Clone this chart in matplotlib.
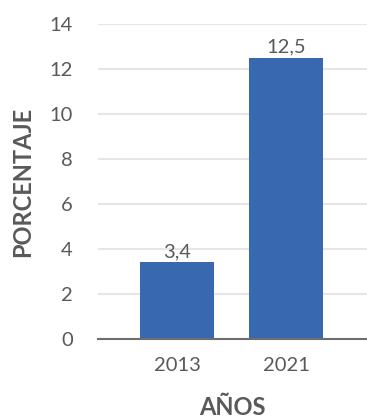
import matplotlib.pyplot as plt

# Porcentaje por año
years = ['2013', '2021']
values = [3.4, 12.5]
value_labels = ['3,4', '12,5']
y_ticks = [0, 2, 4, 6, 8, 10, 12, 14]

plt.rcParams['font.family'] = ['Lato', 'DejaVu Sans']
text_gray = '#595959'

fig = plt.figure(figsize=(3.67, 4.2), dpi=100)
ax = fig.add_axes([0.267, 0.193, 0.733, 0.75])

x = range(len(years))
bars = ax.bar(x, values, width=0.68, color='#3868b0', zorder=3)

for bar, lbl in zip(bars, value_labels):
    ax.text(bar.get_x() + bar.get_width() / 2, bar.get_height() + 0.1, lbl,
            ha='center', va='bottom', fontsize=14.5, color=text_gray)

ax.set_xlim(-0.725, 1.74)
ax.set_ylim(0, 14)
ax.set_yticks(y_ticks)
ax.set_xticks(list(x))
ax.set_xticklabels(years)
ax.tick_params(axis='both', length=0, labelsize=14.5, labelcolor=text_gray)
ax.tick_params(axis='y', pad=18)
ax.tick_params(axis='x', pad=13)

ax.yaxis.grid(True, color='#e6e6e6', linewidth=1.5, zorder=0)
for side in ['top', 'right', 'left']:
    ax.spines[side].set_visible(False)
ax.spines['bottom'].set_color('#6e6e6e')
ax.spines['bottom'].set_linewidth(1.5)
ax.spines['bottom'].set_zorder(4)

ax.set_ylabel('PORCENTAJE', fontsize=17, fontweight='bold', color=text_gray, labelpad=11)
ax.set_xlabel('AÑOS', fontsize=17, fontweight='bold', color=text_gray, labelpad=16)

fig.savefig('out.png', dpi=100, facecolor='white')
